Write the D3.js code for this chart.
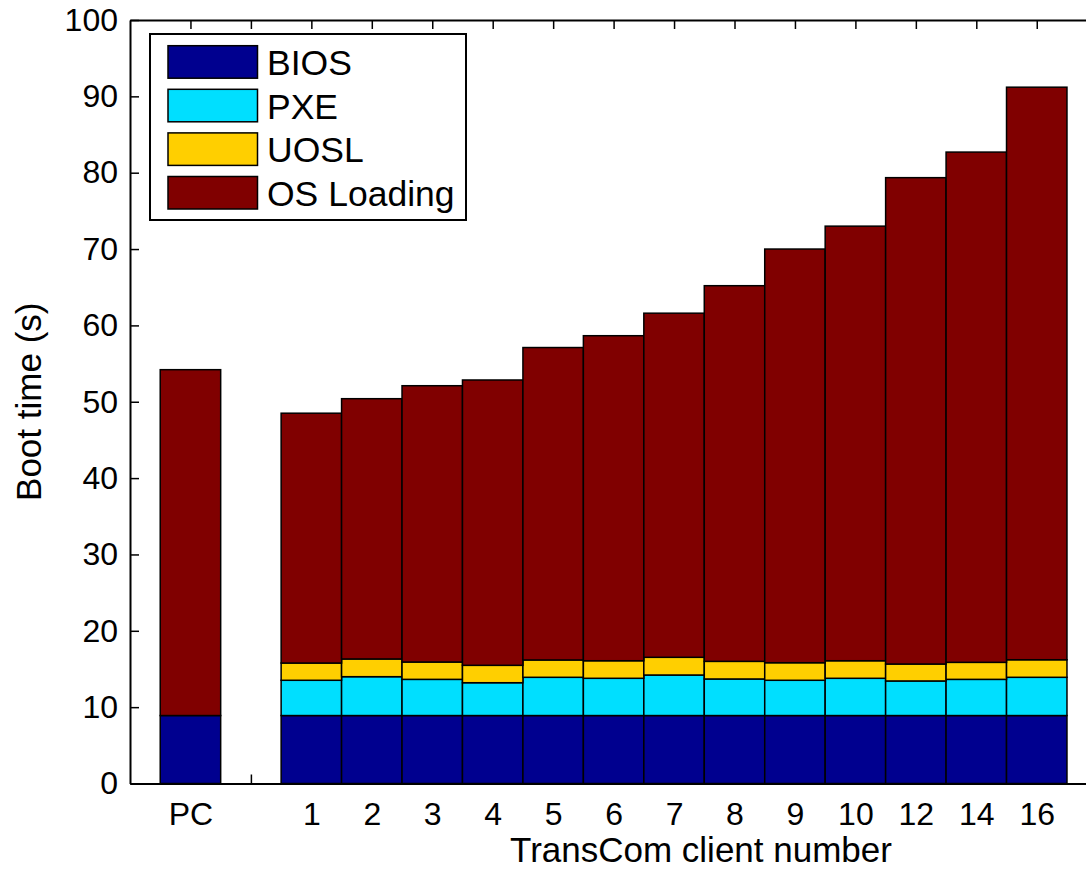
<!DOCTYPE html>
<html>
<head>
<meta charset="utf-8">
<script src="https://cdn.jsdelivr.net/npm/d3@7"></script>
<style>
  html, body { margin: 0; padding: 0; background: #fff; }
  svg { display: block; font-family: "Liberation Sans", Arial, Helvetica, sans-serif; }
</style>
</head>
<body>
<svg id="chart" width="1086" height="870"></svg>
<script>
// ---- data ----
const categories = ["PC", "", "1", "2", "3", "4", "5", "6", "7", "8", "9", "10", "12", "14", "16"];
const seriesNames = ["BIOS", "PXE", "UOSL", "OS Loading"];
const bios      = [8.9, 0, 8.9, 8.9, 8.9, 8.9, 8.9, 8.9, 8.9, 8.9, 8.9, 8.9, 8.9, 8.9, 8.9];
const pxe       = [0, 0, 4.62, 5.09, 4.74, 4.30, 5.01, 4.88, 5.31, 4.79, 4.62, 4.88, 4.53, 4.74, 5.01];
const uosl      = [0, 0, 2.26, 2.32, 2.27, 2.28, 2.27, 2.30, 2.32, 2.31, 2.30, 2.30, 2.22, 2.23, 2.30];
const osLoading = [45.3, 0, 32.72, 34.09, 36.19, 37.37, 40.92, 42.57, 45.07, 49.20, 54.18, 56.92, 63.70, 66.83, 74.99];
const yTicks = [0, 10, 20, 30, 40, 50, 60, 70, 80, 90, 100];
const colors = ["#00008F", "#00DFFF", "#FFCF00", "#800000"];

// ---- layout ----
const svg = d3.select("#chart");
const mLeft = 130, mTop = 20, mBottom = 783.5, unit = 60.45;
const x = d3.scaleLinear().domain([0, 16]).range([mLeft, mLeft + 16 * unit]);
const y = d3.scaleLinear().domain([0, 100]).range([mBottom, mTop]);

const rows = categories.map((c, i) => ({
  pos: i + 1, cat: c,
  "BIOS": bios[i], "PXE": pxe[i], "UOSL": uosl[i], "OS Loading": osLoading[i]
}));
const stacked = d3.stack().keys(seriesNames)(rows);

svg.append("rect").attr("width", 1086).attr("height", 870).attr("fill", "#fff");

// axes (drawn under bars)
const tickFont = "32px";
const gL = svg.append("g").attr("transform", `translate(${mLeft},0)`)
  .call(d3.axisLeft(y).tickValues(yTicks).tickSize(-9).tickSizeOuter(0).tickPadding(12));
gL.selectAll("text").style("font-size", tickFont).attr("fill", "#000");
const gB = svg.append("g").attr("transform", `translate(0,${mBottom})`)
  .call(d3.axisBottom(x).tickValues(rows.map(r => r.pos)).tickFormat((d, i) => categories[i])
    .tickSize(-9).tickSizeOuter(0).tickPadding(19));
gB.selectAll("text").style("font-size", tickFont).attr("fill", "#000");
const gT = svg.append("g").attr("transform", `translate(0,${mTop})`)
  .call(d3.axisTop(x).tickValues(rows.map(r => r.pos)).tickFormat("").tickSize(-9).tickSizeOuter(0));
[gL, gB, gT].forEach(g => {
  g.selectAll("path.domain").attr("stroke", "#000").attr("stroke-width", 2);
  g.selectAll("line").attr("stroke", "#000").attr("stroke-width", 1.5);
  g.attr("font-family", null);
});

// bars
svg.append("g").selectAll("g").data(stacked).join("g")
  .attr("fill", (d, i) => colors[i])
  .selectAll("rect").data(d => d.filter(s => s[1] - s[0] > 0)).join("rect")
  .attr("x", d => x(d.data.pos - 0.5))
  .attr("width", x(1) - x(0))
  .attr("y", d => y(d[1]))
  .attr("height", d => y(d[0]) - y(d[1]))
  .attr("stroke", "#000").attr("stroke-width", 1.5);

// axis titles
svg.append("text").attr("x", 701).attr("y", 862).attr("text-anchor", "middle")
  .style("font-size", "35px").text("TransCom client number");
svg.append("text").attr("transform", `translate(41,${(mTop + mBottom) / 2}) rotate(-90)`)
  .attr("text-anchor", "middle").style("font-size", "35px").text("Boot time (s)");

// legend
const lg = svg.append("g");
lg.append("rect").attr("x", 150).attr("y", 34).attr("width", 316).attr("height", 186)
  .attr("fill", "#fff").attr("stroke", "#000").attr("stroke-width", 2);
seriesNames.forEach((name, i) => {
  const yy = 45.7 + i * 43.6;
  lg.append("rect").attr("x", 168).attr("y", yy).attr("width", 89.5).attr("height", 32.5)
    .attr("fill", colors[i]).attr("stroke", "#000").attr("stroke-width", 1.5);
  lg.append("text").attr("x", 267).attr("y", yy + 16.5).attr("dy", "0.36em")
    .style("font-size", "35.5px").text(name);
});
</script>
</body>
</html>
